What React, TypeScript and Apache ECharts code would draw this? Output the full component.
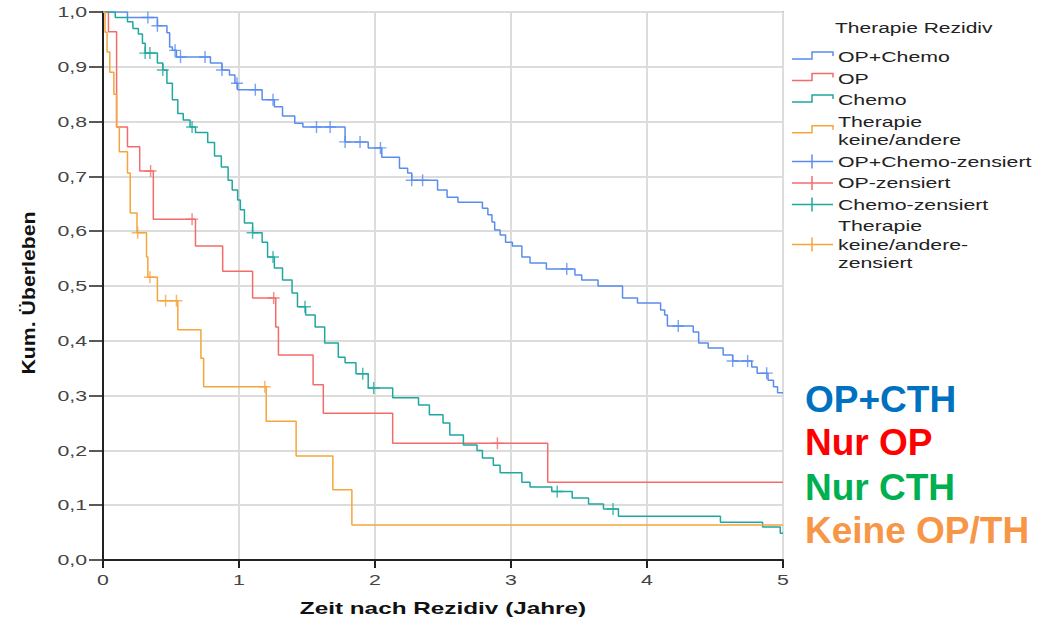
import React, { useEffect, useRef } from "react";
import * as echarts from "echarts";

// ---- data: Kaplan-Meier steps [time (years), cumulative survival] ----
const opChemo: number[][] = [
  [0, 1], [0.18, 0.99], [0.4, 0.975], [0.47, 0.962], [0.49, 0.936], [0.51, 0.93], [0.54, 0.918],
  [0.79, 0.907], [0.875, 0.894], [0.93, 0.885], [0.97, 0.87], [0.99, 0.858], [1.17, 0.84],
  [1.26, 0.827], [1.32, 0.81], [1.41, 0.797], [1.47, 0.79], [1.78, 0.763], [1.95, 0.752],
  [2.05, 0.735], [2.18, 0.715], [2.24, 0.706], [2.27, 0.693], [2.46, 0.675], [2.53, 0.662],
  [2.61, 0.653], [2.79, 0.642], [2.83, 0.63], [2.86, 0.617], [2.88, 0.602], [2.92, 0.593],
  [2.96, 0.58], [3.01, 0.573], [3.08, 0.553], [3.14, 0.542], [3.26, 0.531], [3.47, 0.52],
  [3.52, 0.511], [3.64, 0.5], [3.82, 0.478], [3.93, 0.469], [4.1, 0.456], [4.13, 0.447],
  [4.15, 0.427], [4.34, 0.416], [4.38, 0.396], [4.45, 0.387], [4.56, 0.374], [4.63, 0.363],
  [4.77, 0.352], [4.81, 0.341], [4.89, 0.328], [4.93, 0.316], [4.96, 0.305], [5, 0.305],
];
const opOnly: number[][] = [
  [0, 1], [0.04, 0.964], [0.1, 0.79], [0.18, 0.754], [0.27, 0.71], [0.37, 0.622], [0.68, 0.573],
  [0.88, 0.527], [1.1, 0.478], [1.27, 0.425], [1.29, 0.374], [1.545, 0.32], [1.62, 0.268],
  [2.13, 0.213], [3.27, 0.142], [5, 0.142],
];
const chemoOnly: number[][] = [
  [0, 1], [0.09, 0.99], [0.18, 0.982], [0.22, 0.97], [0.26, 0.96], [0.29, 0.943], [0.31, 0.925],
  [0.4, 0.907], [0.44, 0.894], [0.47, 0.87], [0.51, 0.84], [0.55, 0.815], [0.59, 0.803],
  [0.64, 0.79], [0.68, 0.78], [0.77, 0.762], [0.82, 0.737], [0.87, 0.717], [0.92, 0.693],
  [0.95, 0.675], [0.99, 0.657], [1.01, 0.639], [1.04, 0.615], [1.1, 0.597], [1.17, 0.58],
  [1.21, 0.553], [1.26, 0.533], [1.32, 0.511], [1.39, 0.487], [1.43, 0.462], [1.49, 0.447],
  [1.56, 0.425], [1.63, 0.396], [1.73, 0.37], [1.78, 0.36], [1.86, 0.34], [1.95, 0.314],
  [2.13, 0.296], [2.32, 0.283], [2.4, 0.265], [2.5, 0.25], [2.55, 0.228], [2.65, 0.21],
  [2.75, 0.2], [2.79, 0.186], [2.87, 0.173], [2.92, 0.159], [3.08, 0.142], [3.14, 0.133],
  [3.3, 0.125], [3.45, 0.113], [3.57, 0.102], [3.68, 0.093], [3.79, 0.08], [4.54, 0.069],
  [4.85, 0.06], [4.98, 0.049], [5, 0.049],
];
const none: number[][] = [
  [0, 1], [0.015, 0.963], [0.03, 0.927], [0.05, 0.89], [0.08, 0.85], [0.1, 0.79], [0.12, 0.745],
  [0.18, 0.706], [0.2, 0.633], [0.25, 0.597], [0.32, 0.553], [0.33, 0.516], [0.4, 0.473],
  [0.55, 0.42], [0.72, 0.368], [0.74, 0.316], [1.2, 0.253], [1.42, 0.19], [1.69, 0.128],
  [1.83, 0.064], [5, 0.064],
];

// censored times
const opChemoCens = [0.33, 0.4, 0.53, 0.57, 0.75, 0.875, 0.985, 1.12, 1.25, 1.57, 1.67, 1.78, 1.89, 2.04, 2.27, 2.35, 3.41, 4.23, 4.63, 4.74, 4.88];
const opOnlyCens = [0.35, 0.655, 1.255, 2.9];
const chemoOnlyCens = [0.31, 0.345, 0.44, 0.655, 1.1, 1.25, 1.485, 1.91, 1.99, 3.34, 3.75];
const noneCens = [0.255, 0.345, 0.46, 0.54, 1.19];

const xTicks = [0, 1, 2, 3, 4, 5];
const yTicks = [0, 0.1, 0.2, 0.3, 0.4, 0.5, 0.6, 0.7, 0.8, 0.9, 1.0];
const yTickLabels = ["0,0", "0,1", "0,2", "0,3", "0,4", "0,5", "0,6", "0,7", "0,8", "0,9", "1,0"];

const seriesNames = ["OP+Chemo", "OP", "Chemo", "Therapie keine/andere"];
const colors = ["#5a8cf0", "#f46b6b", "#1fa89f", "#f5a53c"];

const legendTitle = "Therapie Rezidiv";
const legendLines: { lines: string[]; kind: "step" | "cens"; c: number }[] = [
  { lines: ["OP+Chemo"], kind: "step", c: 0 },
  { lines: ["OP"], kind: "step", c: 1 },
  { lines: ["Chemo"], kind: "step", c: 2 },
  { lines: ["Therapie", "keine/andere"], kind: "step", c: 3 },
  { lines: ["OP+Chemo-zensiert"], kind: "cens", c: 0 },
  { lines: ["OP-zensiert"], kind: "cens", c: 1 },
  { lines: ["Chemo-zensiert"], kind: "cens", c: 2 },
  { lines: ["Therapie", "keine/andere-", "zensiert"], kind: "cens", c: 3 },
];

const bigLabels = ["OP+CTH", "Nur OP", "Nur CTH", "Keine OP/TH"];
const bigColors = ["#0070C0", "#FF0000", "#00B050", "#F79646"];

function survAt(steps: number[][], t: number): number {
  let s = steps[0][1];
  for (const [x, y] of steps) {
    if (x <= t) s = y;
    else break;
  }
  return s;
}

const crossPath = "path://M4.4,0H5.6V10H4.4ZM0,4.4H10V5.6H0Z";
const FONT = "'Liberation Sans', Arial, sans-serif";

export default function App() {
  const ref = useRef<HTMLDivElement>(null);
  useEffect(() => {
    if (!ref.current) return;
    const chart = echarts.init(ref.current, undefined, { renderer: "svg" });
    const curves = [opChemo, opOnly, chemoOnly, none];
    const cens = [opChemoCens, opOnlyCens, chemoOnlyCens, noneCens];
    const series: any[] = [];
    curves.forEach((d, i) => {
      series.push({
        name: seriesNames[i],
        type: "line",
        step: "end",
        data: d,
        symbol: "none",
        lineStyle: { color: colors[i], width: 1.5 },
        z: 3,
      });
    });
    cens.forEach((ts, i) => {
      series.push({
        name: seriesNames[i] + "-zensiert",
        type: "scatter",
        data: ts.map((t) => [t, survAt(curves[i], t)]),
        symbol: crossPath,
        symbolSize: 12,
        itemStyle: { color: colors[i] },
        z: 4,
      });
    });

    chart.setOption({
      animation: false,
      grid: { left: 103, top: 12, right: 255, bottom: 64, show: true, borderColor: "#777", borderWidth: 1.5 },
      xAxis: {
        type: "value", min: 0, max: 5, interval: 1,
        axisLine: { show: true, lineStyle: { color: "#222", width: 2 } },
        axisTick: { show: true, length: 8, lineStyle: { color: "#222", width: 2 } },
        axisLabel: { show: false },
        splitLine: { show: true, lineStyle: { color: "#dcdcdc", width: 2 } },
      },
      yAxis: {
        type: "value", min: 0, max: 1, interval: 0.1,
        axisLine: { show: true, lineStyle: { color: "#222", width: 2 } },
        axisTick: { show: true, length: 14, lineStyle: { color: "#222", width: 1.5 } },
        axisLabel: { show: false },
        splitLine: { show: true, lineStyle: { color: "#dcdcdc", width: 2 } },
      },
      series,
    });

    const g: any[] = [];
    const SX = 1.42;
    yTicks.forEach((v, i) => {
      const p = chart.convertToPixel({ gridIndex: 0 }, [0, v]) as number[];
      g.push({
        type: "text", x: p[0] - 16, y: p[1], scaleX: SX,
        style: { text: yTickLabels[i], fill: "#444", font: `15px ${FONT}`, textAlign: "right", textVerticalAlign: "middle" },
      });
    });
    xTicks.forEach((v) => {
      const p = chart.convertToPixel({ gridIndex: 0 }, [v, 0]) as number[];
      g.push({
        type: "text", x: p[0], y: p[1] + 20, scaleX: SX,
        style: { text: String(v), fill: "#444", font: `15px ${FONT}`, textAlign: "center", textVerticalAlign: "middle" },
      });
    });
    const p0 = chart.convertToPixel({ gridIndex: 0 }, [0, 0]) as number[];
    const p1 = chart.convertToPixel({ gridIndex: 0 }, [5, 1]) as number[];
    g.push({
      type: "text", x: (p0[0] + p1[0]) / 2, y: 608, scaleX: 1.52,
      style: { text: "Zeit nach Rezidiv (Jahre)", fill: "#111", font: `bold 16px ${FONT}`, textAlign: "center", textVerticalAlign: "middle" },
    });
    g.push({
      type: "text", x: 29, y: 293, rotation: Math.PI / 2, scaleX: 1.42, scaleY: 1.2,
      style: { text: "Kum. Überleben", fill: "#111", font: `bold 15px ${FONT}`, textAlign: "center", textVerticalAlign: "middle" },
    });

    // legend
    g.push({
      type: "text", x: 835, y: 28, scaleX: 1.4,
      style: { text: legendTitle, fill: "#222", font: `15px ${FONT}`, textAlign: "left", textVerticalAlign: "middle" },
    });
    let y = 57;
    const lh = 18.5;
    legendLines.forEach((item, k) => {
      const n = item.lines.length;
      const mid = y + ((n - 1) * lh) / 2;
      item.lines.forEach((t, j) => {
        g.push({
          type: "text", x: 838, y: y + j * lh, scaleX: 1.42,
          style: { text: t, fill: "#222", font: `15px ${FONT}`, textAlign: "left", textVerticalAlign: "middle" },
        });
      });
      const col = colors[item.c];
      if (item.kind === "step") {
        g.push({
          type: "polyline",
          shape: { points: [[792, mid + 2], [812, mid + 2], [812, mid - 5], [833, mid - 5], [833, mid - 1]] },
          style: { stroke: col, lineWidth: 1.5, fill: null },
        });
      } else {
        g.push({ type: "line", shape: { x1: 792, y1: mid, x2: 833, y2: mid }, style: { stroke: col, lineWidth: 1.5 } });
        g.push({ type: "line", shape: { x1: 812, y1: mid - 7, x2: 812, y2: mid + 7 }, style: { stroke: col, lineWidth: 1.5 } });
      }
      y += n * lh + (k === 3 ? 3 : 3);
    });

    const bigY = [399, 442, 487, 530];
    bigLabels.forEach((t, i) => {
      g.push({
        type: "text", x: 805, y: bigY[i],
        style: { text: t, fill: bigColors[i], font: `bold 37px ${FONT}`, textAlign: "left", textVerticalAlign: "middle" },
      });
    });

    chart.setOption({ graphic: g });
    return () => chart.dispose();
  }, []);
  return <div ref={ref} style={{ width: 1038, height: 624, position: "absolute", left: 0, top: 0 }} />;
}
